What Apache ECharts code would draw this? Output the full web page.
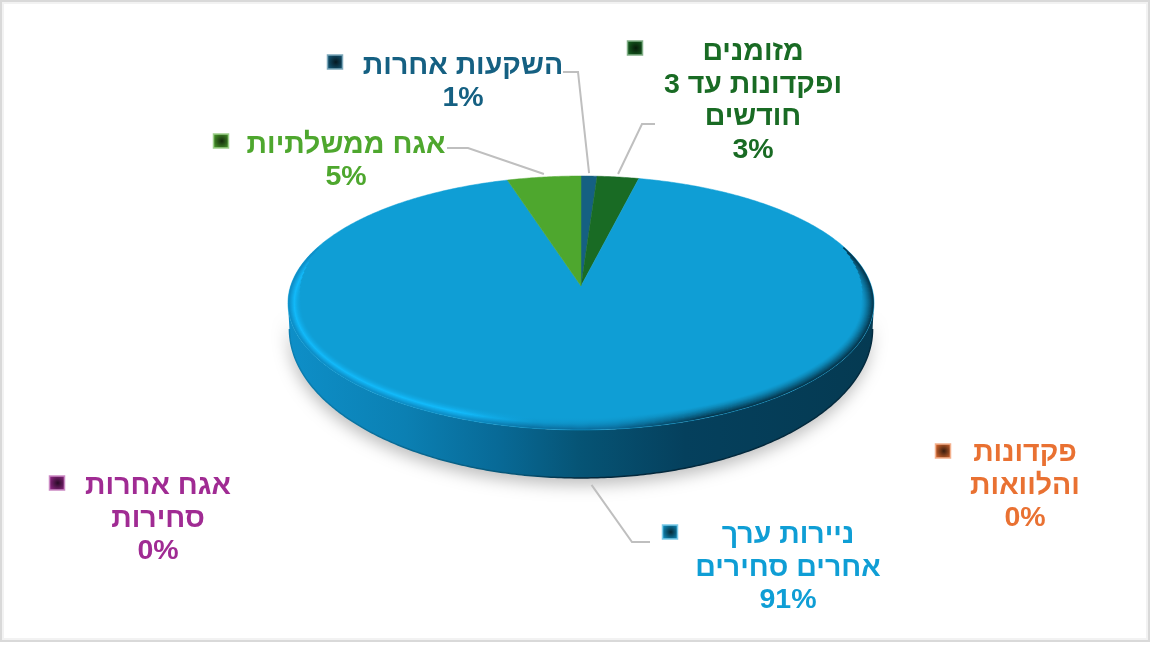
<!DOCTYPE html>
<html><head><meta charset="utf-8">
<style>html,body{margin:0;padding:0;background:#fff}#c{width:1152px;height:648px;filter:blur(0.55px)}</style>
<script src="https://cdn.jsdelivr.net/npm/echarts@6/dist/echarts.min.js"></script>
</head><body><div id="c"></div>
<script>
// Data, clockwise from the top of the pie (values are percentages)
const names = ['השקעות אחרות','מזומנים\nופקדונות עד 3\nחודשים','ניירות ערך\nאחרים סחירים','פקדונות\nוהלוואות','אגח אחרות\nסחירות','אגח ממשלתיות'];
const values = [1.0, 2.6, 91.4, 0, 0, 4.6];
const colors = ['#156082','#196B24','#0F9ED5','#E97132','#A02B93','#4EA72E'];

// Layout (label centre, key square, leader elbow)
const labelPos = [[463,82],[753,101],[788,568],[1025,486],[158,519],[346,161]];
const keyPos = [[335,62],[635,48],[670,532],[943,451],[57,483],[221,141]];
const elbows = [[[578,72],[563,72]],[[642,124],[655,124]],[[632,542],[650,542]],null,null,[[468,148],[447,148]]];

const AX=581, AY=286, K=0.1338, A=124.7, B=290.4, CY=303, RX=293, RY=127;
const total = values.reduce((a,b)=>a+b,0);
const starts=[]; {let s=0; values.forEach(v=>{starts.push(s); s+=v/total*Math.PI*2;});}
function rim(t,d){
  d=d||0;
  const w=1+K*Math.cos(t);
  const x=B*Math.sin(t)/w, y=AY-A*Math.cos(t)/w-CY;
  return [AX+x*(RX-d)/RX, CY+y*(RY-d)/RY];
}
function low(p){return [AX+(p[0]-AX)*0.995, 329+(p[1]-CY)*149/127];}
function arc(t0,t1,d,step){
  const n=Math.max(2,Math.ceil((t1-t0)/(step||0.01))),o=[];
  for(let i=0;i<=n;i++)o.push(rim(t0+(t1-t0)*i/n,d));
  return o;
}
function grad(stops){return {type:'linear',global:true,x:287,y:0,x2:873,y2:0,colorStops:stops.map(s=>({offset:s[0],color:s[1]}))};}
function mix(a,b,t){
  const p=c=>[1,3,5].map(i=>parseInt(c.substr(i,2),16));
  const x=p(a),y=p(b);
  return '#'+x.map((v,i)=>Math.round(v+(y[i]-v)*t).toString(16).padStart(2,'0')).join('');
}
const SILH=Math.acos(-K);
function renderSlice(params,api){
  const i=params.dataIndex, v=api.value(0), col=colors[i];
  const t0=starts[i], t1=t0+v/total*Math.PI*2, mid=(t0+t1)/2;
  const kids=[];
  if(v>0){
    // side wall
    const a0=Math.max(t0,SILH), a1=Math.min(t1,Math.PI*2-SILH);
    if(a1>a0){
      const top=arc(a0,a1,0), bottom=top.map(low).reverse();
      kids.push({type:'polygon',shape:{points:top.concat(bottom)},
        style:{fill:grad([[0,'#0E8FC8'],[0.2,'#0B80B3'],[0.36,'#086A97'],[0.5,'#065475'],[0.68,'#05405D'],[1,'#053A52']]),
               shadowColor:'rgba(0,0,0,0.26)',shadowBlur:16,shadowOffsetY:7,shadowOffsetX:-1}});
      kids.push({type:'polyline',shape:{points:bottom},style:{fill:'none',lineWidth:1.5,
        stroke:grad([[0,'#0B80B3'],[0.4,'#065475'],[0.5,'#03283C'],[1,'#032A3E']])}});
    }
    // top face
    const pts=[[AX,AY]].concat(arc(t0,t1,0));
    kids.push({type:'polygon',shape:{points:pts},style:{fill:col,stroke:col,lineWidth:0.5}});
    // bevel along the rim of the face, narrowing towards the back of the pie
    if(t1-t0>1){
      for(let d=13;d>=1;d-=1){
        const b0=Math.max(t0,1.2+d*0.04), b1=Math.min(t1,Math.PI*2-1.2-d*0.04);
        const u=(13-d)/12;            // 0 inner .. 1 edge
        const leftC = d>=6 ? mix(col,'#12BAFA',Math.pow((13-d)/7,1.6)) : mix('#12BAFA','#0E8FC8',(6-d)/5);
        const midC = mix(col,'#0A6E9E',Math.pow(u,2));
        const rightC = mix(col,'#053A52',Math.pow(u,1.4));
        kids.push({type:'polyline',shape:{points:arc(b0,b1,d,0.02)},style:{fill:'none',lineWidth:1.6,
          stroke:grad([[0,leftC],[0.3,leftC],[0.42,mix(leftC,midC,0.8)],[0.55,midC],[0.72,rightC],[1,rightC]])}});
      }
    }
  }
  // leader line, starting just off the slice's own rim
  if(elbows[i]){
    let p0=rim(mid,0);
    p0 = (Math.cos(mid)<0) ? low(p0) : p0;
    p0=[p0[0], p0[1]+(Math.cos(mid)<0?7:-3)];
    kids.push({type:'polyline',shape:{points:[p0].concat(elbows[i])},style:{fill:'none',stroke:'#BFBFBF',lineWidth:2}});
  }
  // key square
  const kp=keyPos[i];
  kids.push({type:'rect',shape:{x:kp[0]-7.5,y:kp[1]-7,width:15,height:14},style:{
    fill:{type:'radial',x:0.55,y:0.5,r:0.7,colorStops:[{offset:0,color:mix(col,'#000000',0.75)},{offset:1,color:col}]},
    stroke:mix(col,'#FFFFFF',0.45),lineWidth:1.5}});
  // label
  const pct=Math.round(v)+'%';
  const lp=labelPos[i];
  kids.push({type:'text',style:{text:names[i]+'\n'+pct,x:lp[0],y:lp[1],align:'center',verticalAlign:'middle',
    fill:col,font:'bold 28.5px "Liberation Sans", Arial, sans-serif',lineHeight:32.5}});
  return {type:'group',children:kids};
}
const chart=echarts.init(document.getElementById('c'),null,{renderer:'canvas'});
chart.setOption({
  animation:false,backgroundColor:'#fff',
  graphic:[
    {type:'rect',shape:{x:1,y:1,width:1148,height:640},style:{fill:'none',stroke:'#D9D9D9',lineWidth:2},silent:true,z:0},
    {type:'rect',shape:{x:3,y:3,width:1144,height:636},style:{fill:'none',stroke:'#F2F2F2',lineWidth:2},silent:true,z:0}
  ],
  series:[{type:'custom',coordinateSystem:'none',renderItem:renderSlice,
    data:values.map((v,i)=>({name:names[i],value:[v]}))}]
});
</script></body></html>
